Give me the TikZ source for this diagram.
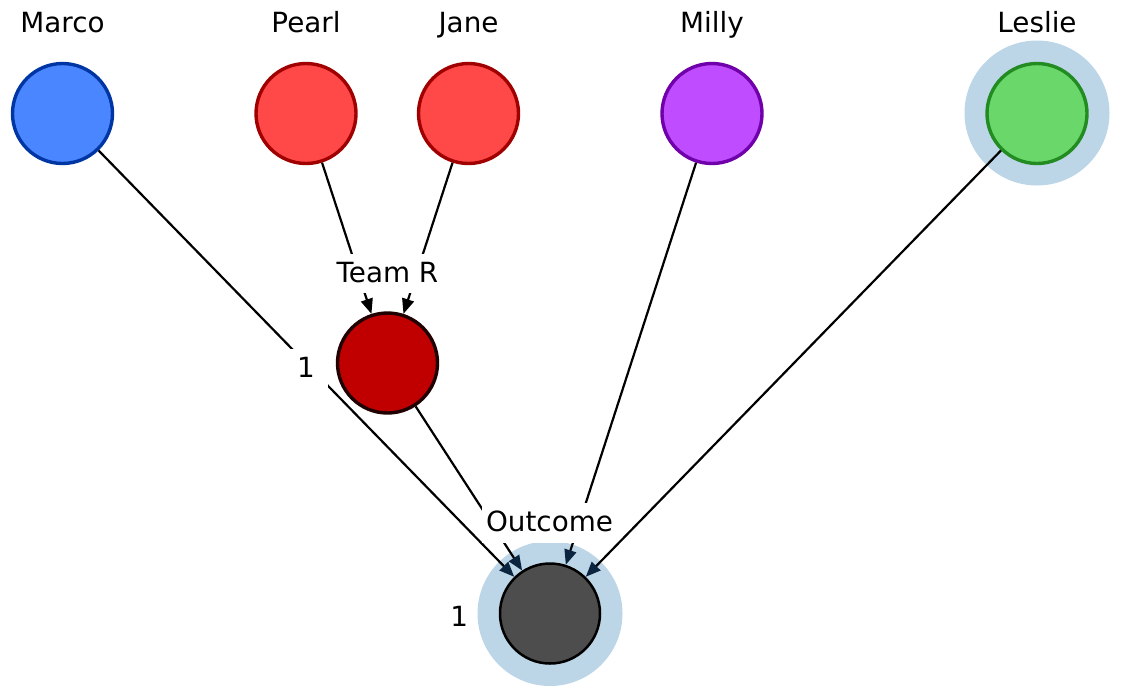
\documentclass[tikz,border=0pt]{standalone}
\usepackage{fontspec}
\setmainfont{DejaVu Sans}
\usetikzlibrary{arrows.meta}
\definecolor{cBlue}{HTML}{4A86FF}
\definecolor{dBlue}{HTML}{0036A3}
\definecolor{cRed}{HTML}{FF4848}
\definecolor{dRed}{HTML}{A00000}
\definecolor{cPurple}{HTML}{C04CFF}
\definecolor{dPurple}{HTML}{7000AA}
\definecolor{cGreen}{HTML}{6AD76A}
\definecolor{dGreen}{HTML}{228B22}
\definecolor{cTeam}{HTML}{C00000}
\definecolor{dTeam}{HTML}{200000}
\definecolor{cOut}{HTML}{4D4D4D}
\definecolor{cHalo}{HTML}{BCD6E8}
\definecolor{cNavy}{HTML}{0B2540}
\tikzset{
  pnode/.style={circle, minimum size=100pt, inner sep=0pt, line width=3.4pt},
  lab/.style={font=\fontsize{27.8}{33}\selectfont, inner sep=0pt, anchor=base},
  labbox/.style={lab, fill=white, inner xsep=4pt, inner ysep=0pt, text height=28.5pt, text depth=11pt},
  edge/.style={line width=2.2pt, black},
  tipT/.style={-{Triangle[length=15pt,width=12pt]}},
  tipO/.style={-{Triangle[length=15pt,width=12pt,color=cNavy]}},
}
\begin{document}
\begin{tikzpicture}[x=1pt,y=-1pt]
\useasboundingbox (0,0) rectangle (1121,697);
% halos
\fill[cHalo] (1037,113) circle (72.5);
\fill[cHalo] (550,613.5) circle (72.5);
% nodes
\node[pnode, fill=cBlue, draw=dBlue] (marco) at (62.5,113.5) {};
\node[pnode, fill=cRed, draw=dRed] (pearl) at (306,113.5) {};
\node[pnode, fill=cRed, draw=dRed] (jane) at (468.5,113.5) {};
\node[pnode, fill=cPurple, draw=dPurple] (milly) at (712,113.5) {};
\node[pnode, fill=cGreen, draw=dGreen] (leslie) at (1037,113.5) {};
\node[pnode, fill=cTeam, draw=dTeam] (team) at (387.5,363) {};
\node[pnode, fill=cOut, draw=black, line width=2.5pt] (out) at (550,613.5) {};
% edges
\draw[edge, tipT] (pearl) -- (team);
\draw[edge, tipT] (jane) -- (team);
\draw[edge, tipO] (marco) -- (out);
\draw[edge, tipO] (team) -- (out);
\draw[edge, tipO] (milly) -- (out);
\draw[edge, tipO] (leslie) -- (out);
% labels
\node[lab] (tMarco) at (62.5,32.3) {Marco};
\node[lab] (tPearl) at (306,32.3) {Pearl};
\node[lab] (tJane) at (468.5,32.3) {Jane};
\node[lab] (tMilly) at (712,32.3) {Milly};
\node[lab] (tLeslie) at (1037,32.3) {Leslie};
\node[labbox] (tTeam) at (387.5,282) {Team R};
\node[labbox] (tOut) at (549.5,531.7) {Outcome};
\node[labbox, inner xsep=13pt] (tOne) at (306,377.7) {1};
\node[lab] (tOneOut) at (459.3,626.7) {1};
\end{tikzpicture}
\end{document}
